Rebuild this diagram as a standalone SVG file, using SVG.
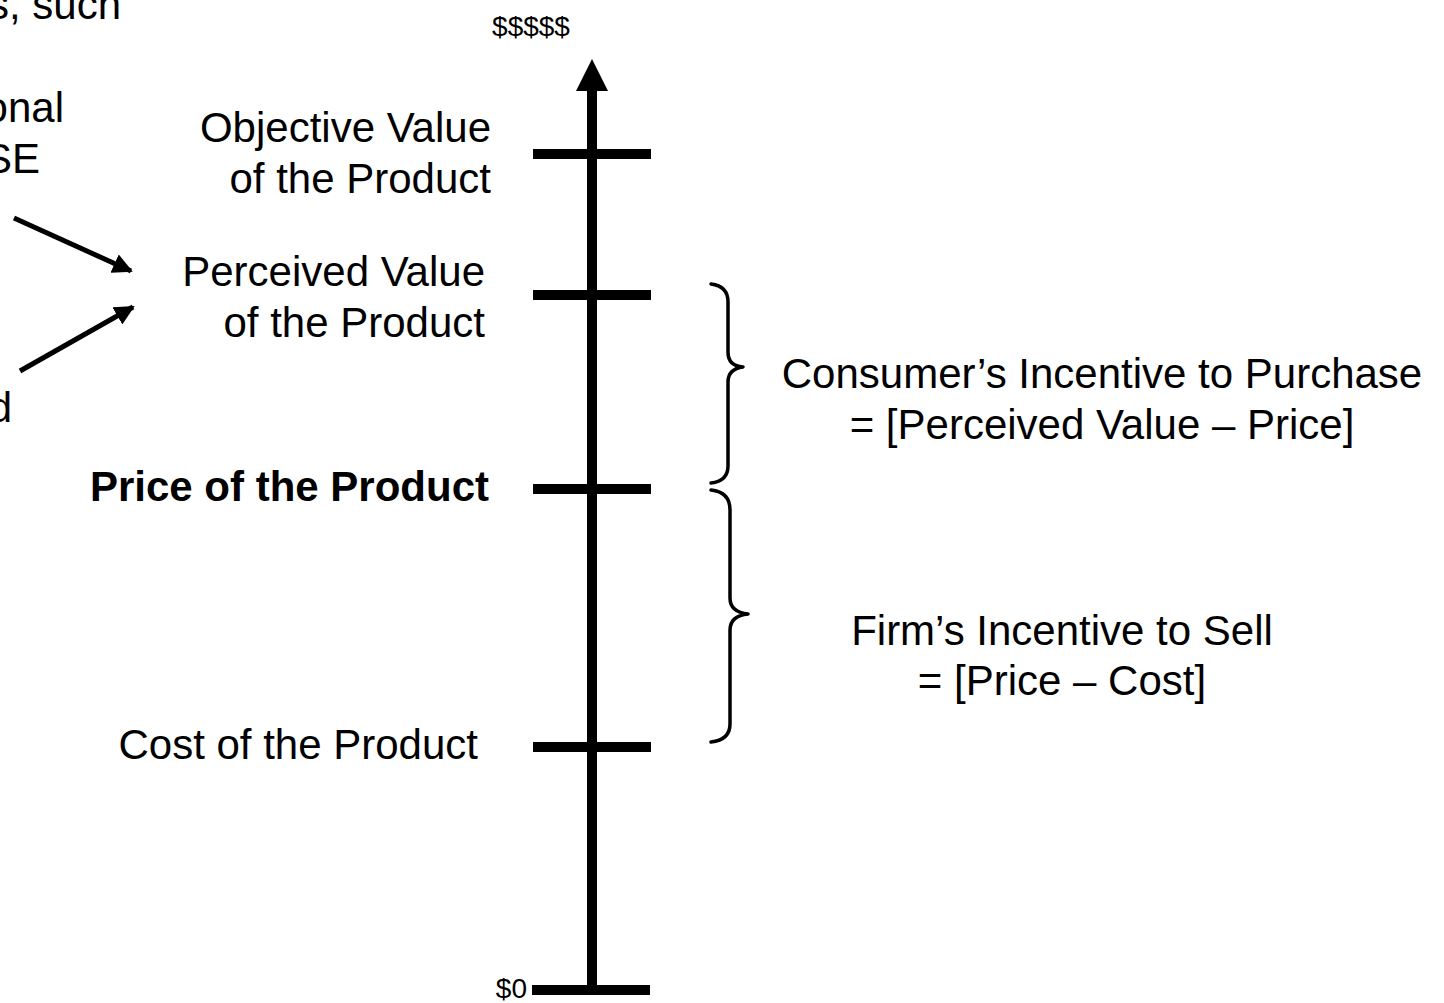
<svg xmlns="http://www.w3.org/2000/svg" width="1444" height="1003" viewBox="0 0 1444 1003">
<style>
text{font-family:"Liberation Sans",Arial,sans-serif;fill:#000}
.t{font-size:42px}
.s{font-size:28px}
.tick{stroke:#000;stroke-width:10;fill:none}
.brace{stroke:#000;stroke-width:3.5;fill:none;stroke-linejoin:round;stroke-linecap:round}
.arr{stroke:#000;stroke-width:5;fill:none}
</style>
<defs>
<marker id="ah" viewBox="0 0 10 10" refX="9" refY="5" markerWidth="4" markerHeight="4" orient="auto" markerUnits="strokeWidth">
<path d="M0,0 L10,5 L0,10 z" fill="#000"/>
</marker>
</defs>
<rect width="1444" height="1003" fill="#fff"/>
<g id="left-fragments">
<text class="t" x="121" y="19" text-anchor="end">s, such</text>
<text class="t" x="64" y="122" text-anchor="end">onal</text>
<text class="t" x="40" y="173" text-anchor="end">SE</text>
<text class="t" x="12" y="422" text-anchor="end">d</text>
</g>
<g id="connectors">
<line class="arr" x1="14" y1="218" x2="131" y2="271" marker-end="url(#ah)"/>
<line class="arr" x1="20" y1="371" x2="133" y2="307" marker-end="url(#ah)"/>
</g>
<g id="axis">
<line class="tick" x1="592" y1="86" x2="592" y2="995"/>
<polygon points="592,59 576,91 608,91" fill="#000"/>
<text class="s" x="531" y="36" text-anchor="middle">$$$$$</text>
<line class="tick" x1="532" y1="990" x2="650" y2="990"/>
<text class="s" x="527" y="998" text-anchor="end">$0</text>
</g>
<g id="objective">
<line class="tick" x1="533" y1="154" x2="651" y2="154"/>
<text class="t" x="491" y="142" text-anchor="end">Objective Value</text>
<text class="t" x="491" y="193" text-anchor="end">of the Product</text>
</g>
<g id="perceived">
<line class="tick" x1="533" y1="295" x2="651" y2="295"/>
<text class="t" x="485" y="286" text-anchor="end">Perceived Value</text>
<text class="t" x="485" y="337" text-anchor="end">of the Product</text>
</g>
<g id="price">
<line class="tick" x1="533" y1="489" x2="651" y2="489"/>
<text class="t" x="489" y="501" text-anchor="end" font-weight="bold">Price of the Product</text>
</g>
<g id="cost">
<line class="tick" x1="533" y1="747" x2="651" y2="747"/>
<text class="t" x="478" y="759" text-anchor="end">Cost of the Product</text>
</g>
<g id="consumer-incentive">
<path class="brace" d="M711,284 Q728,286 728,302 L728,352 Q728,366 743,367 Q728,369 728,382 L728,466 Q728,481 711,483"/>
<text class="t" x="1102" y="388" text-anchor="middle">Consumer’s Incentive to Purchase</text>
<text class="t" x="1102" y="439" text-anchor="middle">= [Perceived Value – Price]</text>
</g>
<g id="firm-incentive">
<path class="brace" d="M711,490 Q730,492 730,510 L730,598 Q730,612 748,614 Q730,616 730,630 L730,724 Q730,740 711,742"/>
<text class="t" x="1062" y="645" text-anchor="middle">Firm’s Incentive to Sell</text>
<text class="t" x="1062" y="695" text-anchor="middle">= [Price – Cost]</text>
</g>
</svg>
